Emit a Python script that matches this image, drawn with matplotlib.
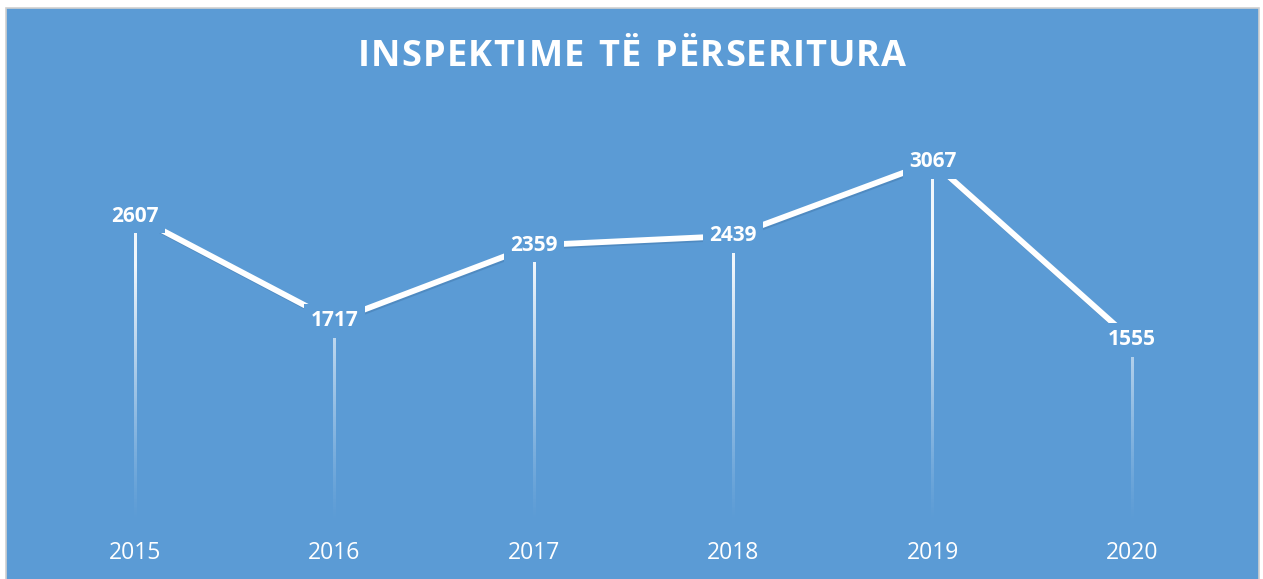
import numpy as np
import matplotlib
matplotlib.use('Agg')
import matplotlib.pyplot as plt
from matplotlib.patches import Rectangle
import matplotlib.patheffects as pe

years = ['2015', '2016', '2017', '2018', '2019', '2020']
values = [2607, 1717, 2359, 2439, 3067, 1555]
title = 'INSPEKTIME TË PËRSERITURA'

BG = '#5B9BD5'
W, H = 1263, 579

plt.rcParams['font.family'] = ['Open Sans', 'DejaVu Sans']

fig = plt.figure(figsize=(W / 100, H / 100), dpi=100, facecolor='white')
fig.patches.append(Rectangle((5.5 / W, -0.01), (1255 - 5.5) / W + 0.003, 1 - 7.5 / H + 0.01,
                             transform=fig.transFigure, facecolor=BG,
                             edgecolor='#D0D0D0', linewidth=1.2, zorder=-5))

# axes: x index 0 at 135px, 5 at 1132px; y=0 at 523px
step = (1132 - 135) / 5
left = 135 - step / 2
ax = fig.add_axes([left / W, (H - 523) / H, 6 * step / W, 412 / H])
ax.set_zorder(2)
ax.set_facecolor('none')
ax.set_xlim(-0.5, 5.5)
ax.set_ylim(0, 3500)
for s in ax.spines.values():
    s.set_visible(False)
ax.set_yticks([])
x = np.arange(len(years))
ax.set_xticks(x)
ax.set_xticklabels(years, fontsize=16.5, color='white')
ax.tick_params(axis='x', length=0, pad=13)

# fading drop lines (vertical gradient images)
hw = 1.3 / step
for xi, v in zip(x, values):
    ys = np.linspace(v, 0, 200)
    a = np.clip(ys / 2200, 0.0, 1.0) ** 1.2 * 0.92
    img = np.ones((len(ys), 1, 4))
    img[:, 0, 3] = a
    ax.imshow(img, extent=[xi - hw, xi + hw, 0, v], aspect='auto',
              interpolation='bilinear', zorder=2)
ax.set_xlim(-0.5, 5.5)
ax.set_ylim(0, 3500)

ax.plot(x, values, color='white', linewidth=4.2, solid_capstyle='butt', zorder=3,
        path_effects=[pe.SimpleLineShadow(offset=(1.0, -1.2), shadow_color='#3A6D9E', alpha=0.35),
                      pe.Normal()])

for xi, v in zip(x, values):
    ax.text(xi, v, str(v), ha='center', va='center', fontsize=15, fontweight='bold',
            color='white', zorder=5,
            bbox=dict(boxstyle='square,pad=0.3', facecolor=BG, edgecolor='none'))

# letter-spaced title
renderer = fig.canvas.get_renderer()
fs = 26
widths = []
for ch in title:
    t = fig.text(0, 0, ch if ch != ' ' else 'I', fontsize=fs, fontweight='bold')
    widths.append(t.get_window_extent(renderer).width)
    t.remove()
target = 548
gap = max((target - sum(widths)) / (len(title) - 1), 0)
xpos = 632 - (sum(widths) + gap * (len(title) - 1)) / 2
for ch, w in zip(title, widths):
    if ch != ' ':
        fig.text(xpos / W, 1 - 52 / H, ch, fontsize=fs, fontweight='bold', color='white',
                 ha='left', va='center_baseline')
    xpos += w + gap

fig.savefig('out.png', dpi=100, facecolor='white')
